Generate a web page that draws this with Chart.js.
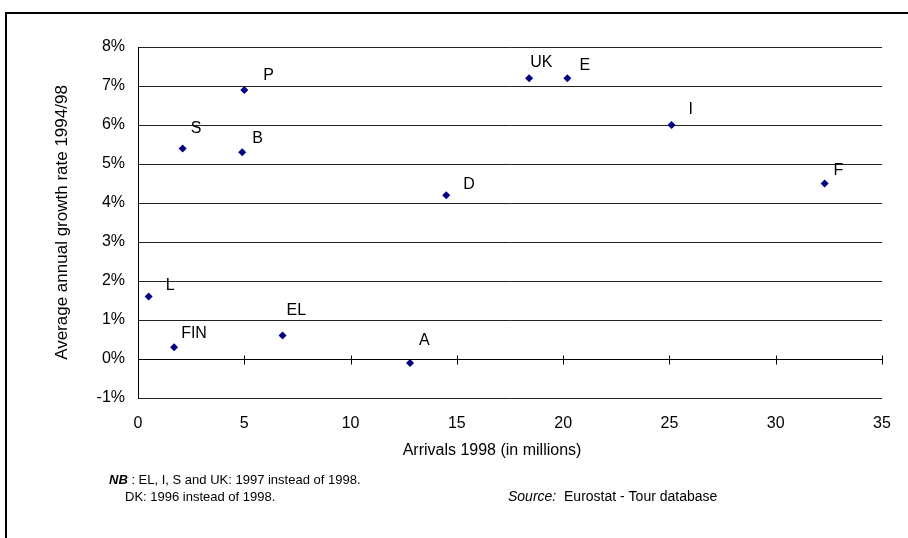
<!DOCTYPE html>
<html>
<head>
<meta charset="utf-8">
<title>Arrivals 1998 vs growth rate 1994/98</title>
<script src="https://cdn.jsdelivr.net/npm/chart.js@4/dist/chart.umd.min.js"></script>
<style>
    html, body { margin: 0; padding: 0; background: #fff; }
    #wrap { width: 908px; height: 538px; }
</style>
</head>
<body>
<div id="wrap"><canvas id="scatterChart" width="908" height="538"></canvas></div>
<script>
// Data
const countries   = ['L', 'FIN', 'S', 'B', 'P', 'EL', 'A', 'D', 'UK', 'E', 'I', 'F'];
const arrivals    = [0.5, 1.7, 2.1, 4.9, 5.0, 6.8, 12.8, 14.5, 18.4, 20.2, 25.1, 32.3];  // millions
const growthRates = [1.6, 0.3, 5.4, 5.3, 6.9, 0.6, -0.1, 4.2, 7.2, 7.2, 6.0, 4.5];     // %
const xTicks = [0, 5, 10, 15, 20, 25, 30, 35];
const yTicks = [-1, 0, 1, 2, 3, 4, 5, 6, 7, 8];

// where each country label sits relative to its marker (px)
const labelOffsets = [
    [17, -11], [7, -14], [8, -20], [10, -14], [19, -14], [4, -25],
    [9, -22], [17, -11], [1, -16], [12, -13], [17, -15], [9, -13]
];

const FONT = "'Liberation Sans', Arial, sans-serif";
const navy = '#000080';

document.addEventListener('DOMContentLoaded', function() {
    const points = arrivals.map((x, i) => ({ x: x, y: growthRates[i] }));

    // frame, x axis through 0%, country labels and footnotes
    const extras = {
        id: 'extras',
        beforeDatasetsDraw(chart) {
            const { ctx, scales: { x, y } } = chart;
            const y0 = Math.round(y.getPixelForValue(0)) + 0.5;
            ctx.save();
            ctx.strokeStyle = '#000';
            ctx.lineWidth = 1;
            ctx.beginPath();
            ctx.moveTo(x.left, y0);
            ctx.lineTo(x.right, y0);
            xTicks.forEach(v => {
                const px = Math.round(x.getPixelForValue(v)) + 0.5;
                ctx.moveTo(px, y0 - 4);
                ctx.lineTo(px, y0 + 5);
            });
            ctx.stroke();
            ctx.restore();
        },
        afterDatasetsDraw(chart) {
            const { ctx } = chart;
            const meta = chart.getDatasetMeta(0);
            ctx.save();
            ctx.fillStyle = '#000';
            ctx.font = '16px ' + FONT;
            ctx.textAlign = 'left';
            ctx.textBaseline = 'middle';
            meta.data.forEach((pt, i) => {
                const [dx, dy] = labelOffsets[i];
                ctx.fillText(countries[i], pt.x + dx, pt.y + dy);
            });
            ctx.restore();
        },
        afterDraw(chart) {
            const { ctx } = chart;
            ctx.save();
            // outer frame
            ctx.strokeStyle = '#000';
            ctx.lineWidth = 2;
            ctx.beginPath();
            ctx.moveTo(6, 538);
            ctx.lineTo(6, 13);
            ctx.lineTo(908, 13);
            ctx.stroke();

            ctx.fillStyle = '#000';
            ctx.textBaseline = 'middle';
            ctx.textAlign = 'center';
            ctx.font = '16px ' + FONT;
            ctx.fillText('Arrivals 1998 (in millions)', 492, 451);

            ctx.textAlign = 'left';
            ctx.font = 'italic bold 13px ' + FONT;
            ctx.fillText('NB', 109, 480);
            let w = ctx.measureText('NB').width;
            ctx.font = '13px ' + FONT;
            ctx.fillText(' : EL, I, S and UK: 1997 instead of 1998.', 109 + w, 480);
            ctx.fillText('DK: 1996 instead of 1998.', 125, 497);

            ctx.font = 'italic 14px ' + FONT;
            ctx.fillText('Source:', 508, 497);
            w = ctx.measureText('Source:').width;
            ctx.font = '14px ' + FONT;
            ctx.fillText('  Eurostat - Tour database', 508 + w, 497);
            ctx.restore();
        }
    };

    const ctx = document.getElementById('scatterChart').getContext('2d');
    const scatterChart = new Chart(ctx, {
        type: 'scatter',
        data: {
            datasets: [{
                label: 'Countries',
                data: points,
                pointStyle: 'rectRot',
                pointRadius: 4,
                pointBorderWidth: 0,
                backgroundColor: navy,
                borderColor: navy
            }]
        },
        options: {
            responsive: false,
            animation: false,
            devicePixelRatio: 1,
            events: [],
            layout: { padding: { left: 0, top: 47, right: 26, bottom: 0 } },
            plugins: {
                legend: { display: false },
                tooltip: { enabled: false }
            },
            scales: {
                x: {
                    type: 'linear',
                    min: xTicks[0],
                    max: xTicks[xTicks.length - 1],
                    afterBuildTicks: scale => { scale.ticks = xTicks.map(v => ({ value: v })); },
                    grid: { display: false, drawTicks: false },
                    border: { display: false },
                    ticks: { color: '#000', font: { family: FONT, size: 16 }, padding: 16, maxRotation: 0 },
                    afterFit: scale => { scale.height = 140; }
                },
                y: {
                    type: 'linear',
                    min: yTicks[0],
                    max: yTicks[yTicks.length - 1],
                    afterBuildTicks: scale => { scale.ticks = yTicks.map(v => ({ value: v })); },
                    grid: { color: '#222', lineWidth: 1, drawTicks: false },
                    border: { display: true, color: '#000', width: 1 },
                    ticks: {
                        color: '#000',
                        font: { family: FONT, size: 16 },
                        padding: 13,
                        callback: v => v + '%'
                    },
                    title: {
                        display: true,
                        text: 'Average annual growth rate 1994/98',
                        color: '#000',
                        font: { family: FONT, size: 17 },
                        padding: { top: 52, bottom: 0 }
                    },
                    afterFit: scale => { scale.width = 138; }
                }
            }
        },
        plugins: [extras]
    });
});
</script>
</body>
</html>
